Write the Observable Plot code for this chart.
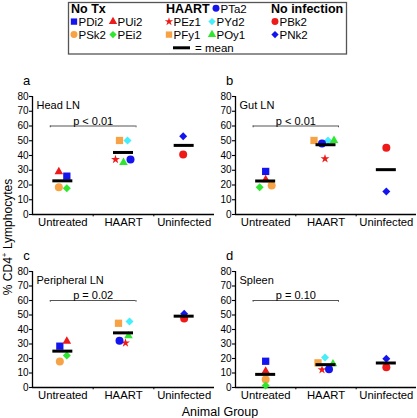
<!DOCTYPE html>
<html><head><meta charset="utf-8">
<script src="https://cdn.jsdelivr.net/npm/d3@7"></script>
<script src="https://cdn.jsdelivr.net/npm/@observablehq/plot@0.6"></script>
<style>
html,body{margin:0;padding:0;background:#fff;overflow:hidden}
#root{position:relative;width:417px;height:418px;font-family:"Liberation Sans",Arial,sans-serif;background:#fff}
.panel{position:absolute}
#overlay{position:absolute;left:0;top:0;pointer-events:none}
</style></head><body><div id="root"></div>
<script>
// ---------- data ----------
const groups = ["Untreated", "HAART", "Uninfected"];
const animals = ["PDi2", "PUi2", "PSk2", "PEi2", "PEz1", "PYd2", "PFy1", "POy1", "PTa2", "PBk2", "PNk2"];
const animalGroup = ["Untreated", "Untreated", "Untreated", "Untreated", "HAART", "HAART", "HAART", "HAART", "HAART", "Uninfected", "Uninfected"];
const tissues = ["Head LN", "Gut LN", "Peripheral LN", "Spleen"];
const panelLetters = ["a", "b", "c", "d"];
const pLabels = ["p < 0.01", "p < 0.01", "p = 0.02", "p = 0.10"];
const bracketLevel = [60, 60, 60, 60];
const headLN = [26, 29, 18.5, 17.8, 37.3, 50.2, 50.2, 35.3, 37.3, 40.7, 53];
const gutLN = [29.2, 23.5, 19.7, 18.5, 37.8, 50.2, 50.2, 50.2, 48.1, 45.2, 15.6];
const peripheralLN = [28.5, 31.9, 17.9, 22, 30.8, 45.5, 44.3, 35.6, 32.2, 47.6, 50.8];
const spleen = [18.1, 11.2, 5.5, 1.4, 12.2, 20.7, 17, 16.3, 12.6, 14, 19.8];
const yTicks = [0, 10, 20, 30, 40, 50, 60, 70, 80];
const legendGroups = ["No Tx", "HAART", "No infection"];
const xTitle = "Animal Group";

// ---------- styles ----------
const FONT = '"Liberation Sans", Arial, sans-serif';
const symbolOf = {PDi2:"square", PUi2:"triangle", PSk2:"circle", PEi2:"diamond2", PEz1:"star", PYd2:"diamond2", PFy1:"square", POy1:"triangle", PTa2:"circle", PBk2:"circle", PNk2:"diamond2"};
const colorOf = {PDi2:"#1414ee", PUi2:"#ee1a1a", PSk2:"#f7a244", PEi2:"#2ee62e", PEz1:"#ee1a1a", PYd2:"#44eefa", PFy1:"#f7a244", POy1:"#2ee62e", PTa2:"#1414ee", PBk2:"#ee1a1a", PNk2:"#1414ee"};
const rOf = {square:4.1, triangle:3.2, circle:4, diamond2:3.6, star:2.8};
const d3sym = {square:d3.symbolSquare, triangle:d3.symbolTriangle, circle:d3.symbolCircle, diamond2:d3.symbolDiamond2, star:d3.symbolStar};
// horizontal spread of symbols inside each group (px), per panel
const spread = [
  {PDi2:4, PUi2:-4, PSk2:-4, PEi2:4, PEz1:-8, PYd2:4, PFy1:-4, POy1:0, PTa2:7, PBk2:-1, PNk2:-1},
  {PDi2:0, PUi2:0, PSk2:6, PEi2:-6, PEz1:-1, PYd2:2, PFy1:-12, POy1:8, PTa2:-4, PBk2:0, PNk2:0},
  {PDi2:-3, PUi2:4, PSk2:-3, PEi2:4, PEz1:2, PYd2:6, PFy1:-5, POy1:5, PTa2:-4, PBk2:0, PNk2:0},
  {PDi2:0, PUi2:0, PSk2:0, PEi2:0, PEz1:-4, PYd2:-1, PFy1:-8, POy1:7, PTa2:3, PBk2:0, PNk2:0}
];
const layouts = [
  {left:0, top:60, width:216, height:174, mr:2},
  {left:203, top:60, width:213, height:174, mr:0},
  {left:0, top:235, width:216, height:172, mr:2},
  {left:203, top:235, width:213, height:172, mr:0}
];
const series = [headLN, gutLN, peripheralLN, spleen];

const root = document.getElementById("root");

function makePanel(k) {
  const L = layouts[k], values = series[k];
  const ml = 32, mt = 36, mb = 20;
  const step = (L.width - ml - L.mr) / groups.length;
  const rows = animals.map((a, i) => ({animal: a, group: animalGroup[i], value: values[i]}));
  const means = groups.map(g => ({group: g, value: d3.mean(rows.filter(r => r.group === g), r => r.value)}));
  const marks = [
    Plot.ruleY([0], {stroke: "black", strokeWidth: 1.3}),
    Plot.ruleX([groups[0]], {x: d => d, dx: -step / 2, y1: () => 0, y2: () => 80, stroke: "black", strokeWidth: 1.3}),
    Plot.axisY({ticks: yTicks, tickSize: 3, tickPadding: 1, fontSize: 10, label: null, strokeWidth: 1.1}),
    Plot.axisX({tickSize: 0, tickPadding: 3, fontSize: 11.3, label: null}),
    Plot.ruleX(groups.slice(0, 2), {x: d => d, dx: step / 2, y1: () => 0, y2: () => -1.6, stroke: "black", strokeWidth: 1}),
    // bracket
    Plot.ruleY([bracketLevel[k]], {x1: () => groups[0], x2: () => groups[1], y: d => d, insetLeft: -12.5, insetRight: -12.5, stroke: "#555", strokeWidth: 1}),
    Plot.ruleX([groups[0]], {x: d => d, dx: -12.5, y1: () => bracketLevel[k], y2: () => bracketLevel[k] - 1.2, stroke: "#555", strokeWidth: 1}),
    Plot.ruleX([groups[1]], {x: d => d, dx: 12.5, y1: () => bracketLevel[k], y2: () => bracketLevel[k] - 1.2, stroke: "#555", strokeWidth: 1}),
    Plot.text([pLabels[k]], {text: d => d, x: () => groups[0], dx: step / 2, y: () => bracketLevel[k], dy: -5, fontSize: 11, fill: "black"}),
  ];
  for (const a of animals) {
    const s = symbolOf[a];
    marks.push(Plot.dot(rows.filter(r => r.animal === a), {x: "group", y: "value", symbol: s, fill: colorOf[a], r: rOf[s], dx: spread[k][a]}));
  }
  marks.push(
    Plot.ruleY(means, {x1: "group", x2: "group", y: "value", insetLeft: -10, insetRight: -10, stroke: "black", strokeWidth: 3}),
    Plot.text([panelLetters[k]], {text: d => d, frameAnchor: "top-left", dx: -6, dy: -21, fontSize: 13, textAnchor: "middle", fill: "black"}),
    Plot.text([tissues[k]], {text: d => d, frameAnchor: "top-left", dx: 4, dy: 5, fontSize: 11, textAnchor: "start", fill: "black"})
  );
  const chart = Plot.plot({
    width: L.width, height: L.height,
    marginLeft: ml, marginRight: L.mr, marginTop: mt, marginBottom: mb,
    x: {type: "point", domain: groups, padding: 0.5, round: false},
    y: {domain: [0, 80]},
    style: {fontFamily: FONT, color: "black", background: "transparent", overflow: "visible"},
    marks
  });
  chart.classList.add("panel");
  chart.style.left = L.left + "px";
  chart.style.top = L.top + "px";
  chart.style.position = "absolute";
  root.appendChild(chart);
}
for (let k = 0; k < 4; k++) makePanel(k);

// ---------- overlay: legend and axis titles ----------
const svg = d3.select(root).append("svg").attr("id", "overlay")
  .attr("width", 417).attr("height", 418).style("font-family", FONT);

// y title
const yt = svg.append("text").attr("transform", "translate(12,237) rotate(-90)")
  .attr("text-anchor", "middle").attr("font-size", 12).attr("fill", "black");
yt.append("tspan").text("% CD4");
yt.append("tspan").attr("font-size", 8).attr("dy", -5).text("+");
yt.append("tspan").attr("dy", 5).text(" Lymphocytes");
// x title
svg.append("text").attr("x", 220).attr("y", 416).attr("text-anchor", "middle")
  .attr("font-size", 12.5).attr("fill", "black").text(xTitle);

// legend
const lg = svg.append("g");
lg.append("rect").attr("x", 68.5).attr("y", 2.5).attr("width", 278).attr("height", 51.5)
  .attr("fill", "white").attr("stroke", "#555").attr("stroke-width", 1.3);
const titlePos = [71, 166, 271];
legendGroups.forEach((t, i) => lg.append("text").attr("x", titlePos[i]).attr("y", 12.5).attr("font-size", 12.5)
  .attr("font-weight", "bold").attr("fill", "black").text(t));
const rowBase = [12.5, 25.8, 38.8];
const legendItems = [
  {a: "PDi2", sx: 74, row: 1}, {a: "PUi2", sx: 113, row: 1},
  {a: "PSk2", sx: 74, row: 2}, {a: "PEi2", sx: 113, row: 2},
  {a: "PTa2", sx: 216, row: 0},
  {a: "PEz1", sx: 169, row: 1}, {a: "PYd2", sx: 212, row: 1},
  {a: "PFy1", sx: 169, row: 2}, {a: "POy1", sx: 212, row: 2},
  {a: "PBk2", sx: 275, row: 1}, {a: "PNk2", sx: 275, row: 2}
];
const legSize = {square: 40, triangle: 30, circle: 38, diamond2: 34, star: 22};
for (const it of legendItems) {
  const s = symbolOf[it.a];
  const cy = rowBase[it.row] - 4.2;
  lg.append("path").attr("d", d3.symbol(d3sym[s], legSize[s])())
    .attr("transform", `translate(${it.sx},${cy})`).attr("fill", colorOf[it.a]);
  lg.append("text").attr("x", it.sx + 4.5).attr("y", rowBase[it.row]).attr("font-size", 11.5)
    .attr("fill", "black").text(it.a);
}
lg.append("line").attr("x1", 173).attr("x2", 190).attr("y1", 47.8).attr("y2", 47.8)
  .attr("stroke", "black").attr("stroke-width", 3);
lg.append("text").attr("x", 195).attr("y", 51.8).attr("font-size", 11.5).attr("fill", "black").text("= mean");
</script></body></html>
